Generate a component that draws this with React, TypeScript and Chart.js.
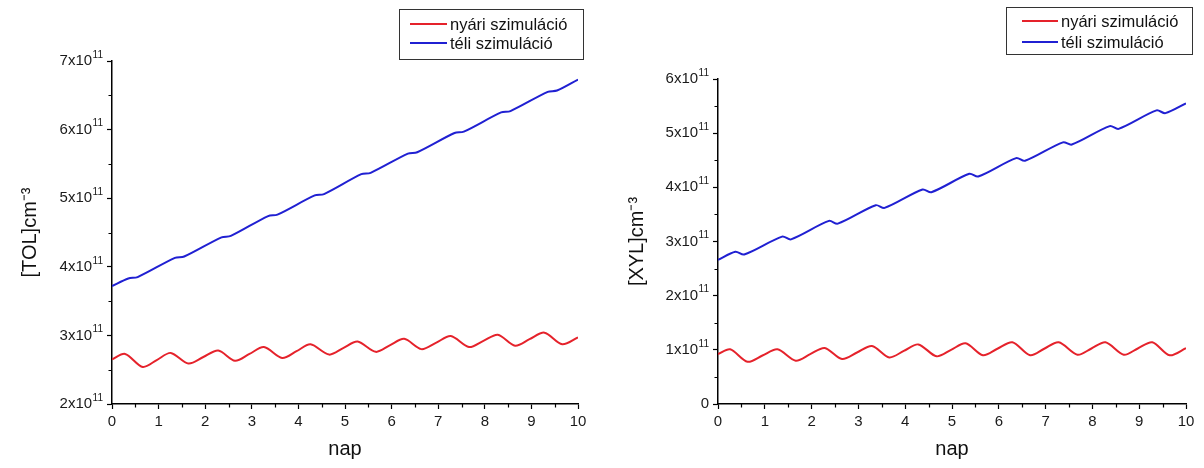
import React, { useEffect, useRef } from 'react';
import { Chart, registerables } from 'chart.js';

Chart.register(...registerables);

// ---- Data (concentrations in units of 10^11 cm^-3, x in days "nap") ----
const SCALE = 1e11;
const SERIES_LABELS = ['nyári szimuláció', 'téli szimuláció'];
const X_TITLE = 'nap';
const TICK_BASE = 'x10';
const TICK_EXP = '11';

// [TOL] – summer (nyári)
const tolSummerX = [0, 0.28, 0.66, 0.96, 1.26, 1.64, 1.96, 2.28, 2.64, 2.95, 3.26, 3.65, 3.96, 4.26, 4.66, 4.96, 5.27, 5.66, 5.96, 6.27, 6.64, 6.96, 7.27, 7.66, 7.97, 8.28, 8.65, 8.96, 9.28, 9.66, 10];
const tolSummerY = [2.65, 2.73, 2.54, 2.64, 2.745, 2.59, 2.685, 2.78, 2.63, 2.73, 2.83, 2.67, 2.77, 2.87, 2.72, 2.815, 2.91, 2.76, 2.855, 2.95, 2.80, 2.895, 2.99, 2.83, 2.92, 3.01, 2.85, 2.945, 3.04, 2.87, 2.97];
// [TOL] – winter (téli)
const tolWinterX = [0, 0.35, 0.55, 1.35, 1.55, 2.35, 2.55, 3.35, 3.55, 4.35, 4.55, 5.35, 5.55, 6.35, 6.55, 7.35, 7.55, 8.35, 8.55, 9.35, 9.55, 10];
const tolWinterY = [3.72, 3.83, 3.85, 4.13, 4.15, 4.43, 4.45, 4.74, 4.76, 5.04, 5.06, 5.35, 5.37, 5.65, 5.67, 5.95, 5.97, 6.25, 6.27, 6.55, 6.57, 6.73];

// [XYL] – summer (nyári)
const xylSummerX = [0, 0.26, 0.63, 0.95, 1.27, 1.66, 1.97, 2.28, 2.65, 2.97, 3.29, 3.66, 3.97, 4.28, 4.67, 4.98, 5.29, 5.66, 5.97, 6.29, 6.67, 6.97, 7.28, 7.68, 7.98, 8.28, 8.67, 8.97, 9.28, 9.65, 10];
const xylSummerY = [0.92, 1.01, 0.78, 0.895, 1.01, 0.80, 0.92, 1.035, 0.83, 0.95, 1.07, 0.86, 0.98, 1.10, 0.88, 1.00, 1.12, 0.90, 1.02, 1.14, 0.90, 1.02, 1.14, 0.91, 1.025, 1.14, 0.91, 1.025, 1.14, 0.90, 1.03];
// [XYL] – winter (téli)
const xylWinterX = [0, 0.37, 0.56, 1.37, 1.56, 2.37, 2.56, 3.37, 3.56, 4.37, 4.56, 5.37, 5.56, 6.37, 6.56, 7.37, 7.56, 8.37, 8.56, 9.37, 9.56, 10];
const xylWinterY = [2.66, 2.81, 2.76, 3.09, 3.04, 3.38, 3.33, 3.67, 3.62, 3.96, 3.91, 4.25, 4.20, 4.54, 4.49, 4.83, 4.79, 5.13, 5.08, 5.42, 5.37, 5.55];

const FONT = "'Liberation Sans', Arial, Helvetica, sans-serif";
const RED = '#e5222b';
const BLUE = '#2020d2';
const TICK_COLOR = '#1a1a1a';

const toPoints = (xs: number[], ys: number[]) => xs.map((x, i) => ({ x, y: ys[i] * SCALE }));

// minor ticks plugin (half steps, outside the axes)
const minorTicks = {
  id: 'minorTicks',
  afterDraw(chart: any) {
    const { ctx } = chart;
    const xs = chart.scales.x;
    const ys = chart.scales.y;
    ctx.save();
    ctx.strokeStyle = '#000';
    ctx.lineWidth = 1.2;
    ctx.beginPath();
    for (let v = xs.min + 0.5; v < xs.max; v += 1) {
      const px = Math.round(xs.getPixelForValue(v)) + 0.5;
      ctx.moveTo(px, xs.top);
      ctx.lineTo(px, xs.top + 3.5);
    }
    for (let v = ys.min + SCALE / 2; v < ys.max; v += SCALE) {
      const py = Math.round(ys.getPixelForValue(v)) + 0.5;
      ctx.moveTo(ys.right, py);
      ctx.lineTo(ys.right - 3.5, py);
    }
    ctx.stroke();
    ctx.restore();
  },
};

// y tick labels with a real superscript exponent
const supTicks = {
  id: 'supTicks',
  afterDraw(chart: any) {
    const { ctx } = chart;
    const ys = chart.scales.y;
    const right = ys.right - 9;
    ctx.save();
    ctx.fillStyle = TICK_COLOR;
    ctx.textAlign = 'right';
    ctx.textBaseline = 'middle';
    ys.ticks.forEach((t: any) => {
      const py = ys.getPixelForValue(t.value);
      const n = Math.round(t.value / SCALE);
      if (n === 0) {
        ctx.font = `15px ${FONT}`;
        ctx.fillText('0', right, py);
        return;
      }
      ctx.font = `10px ${FONT}`;
      const sw = ctx.measureText(TICK_EXP).width;
      ctx.fillText(TICK_EXP, right, py - 6);
      ctx.font = `15px ${FONT}`;
      ctx.fillText(`${n}${TICK_BASE}`, right - sw - 0.5, py);
    });
    ctx.restore();
  },
};

// boxed legend plugin, drawn from the datasets
const boxLegend = {
  id: 'boxLegend',
  afterDraw(chart: any, _args: any, opts: any) {
    const { ctx } = chart;
    ctx.save();
    ctx.strokeStyle = '#333';
    ctx.lineWidth = 1;
    ctx.strokeRect(opts.x + 0.5, opts.y + 0.5, opts.w, opts.h);
    ctx.font = `16.5px ${FONT}`;
    ctx.textBaseline = 'middle';
    ctx.textAlign = 'left';
    chart.data.datasets.forEach((ds: any, i: number) => {
      const y = opts.rowY[i];
      ctx.strokeStyle = ds.borderColor;
      ctx.lineWidth = 2;
      ctx.beginPath();
      ctx.moveTo(opts.lineX1, y);
      ctx.lineTo(opts.lineX2, y);
      ctx.stroke();
      ctx.fillStyle = '#111';
      ctx.fillText(ds.label, opts.textX, y + 1);
    });
    ctx.restore();
  },
};

type PanelProps = {
  width: number;
  height: number;
  summer: { x: number; y: number }[];
  winter: { x: number; y: number }[];
  yMin: number;
  yMax: number;
  yTitle: string;
  axisLeft: number;
  padRight: number;
  padTop: number;
  yTitlePad: number;
  legend: any;
};

function Panel(p: PanelProps) {
  const ref = useRef<HTMLCanvasElement | null>(null);
  useEffect(() => {
    if (!ref.current) return;
    const chart = new Chart(ref.current, {
      type: 'line',
      data: {
        datasets: [
          { label: SERIES_LABELS[0], data: p.summer, borderColor: RED, backgroundColor: RED, borderWidth: 2, pointRadius: 0, tension: 0.3, fill: false },
          { label: SERIES_LABELS[1], data: p.winter, borderColor: BLUE, backgroundColor: BLUE, borderWidth: 2, pointRadius: 0, tension: 0.3, fill: false },
        ],
      },
      options: {
        responsive: false,
        animation: false,
        events: [],
        layout: { padding: { left: 0, right: p.padRight, top: p.padTop, bottom: 0 } },
        plugins: {
          legend: { display: false },
          tooltip: { enabled: false },
          boxLegend: p.legend,
        } as any,
        scales: {
          x: {
            type: 'linear',
            min: 0,
            max: 10,
            border: { color: '#000', width: 1.5 },
            grid: { drawOnChartArea: false, color: '#000', tickLength: 5, tickWidth: 1.2 },
            ticks: { stepSize: 1, color: TICK_COLOR, padding: 4, font: { family: FONT, size: 15 }, maxRotation: 0 },
            title: { display: true, text: X_TITLE, color: '#111', font: { family: FONT, size: 20 }, padding: { top: 0, bottom: 7 } },
            afterFit: (s: any) => { s.height = 64; },
          },
          y: {
            type: 'linear',
            min: p.yMin,
            max: p.yMax,
            border: { color: '#000', width: 1.5 },
            grid: { drawOnChartArea: false, color: '#000', tickLength: 5, tickWidth: 1.2 },
            ticks: { stepSize: SCALE, display: false },
            title: { display: true, text: p.yTitle, color: '#111', font: { family: FONT, size: 20 }, padding: { top: p.yTitlePad, bottom: 0 } },
            afterFit: (s: any) => { s.width = p.axisLeft; },
          },
        },
      },
      plugins: [minorTicks, supTicks, boxLegend],
    });
    return () => chart.destroy();
  }, []);
  return <canvas ref={ref} width={p.width} height={p.height} style={{ display: 'block' }} />;
}

export default function App() {
  return (
    <div style={{ position: 'fixed', left: 0, top: 0, width: 1204, height: 468, background: '#fff', display: 'flex' }}>
      <Panel
        width={600}
        height={468}
        summer={toPoints(tolSummerX, tolSummerY)}
        winter={toPoints(tolWinterX, tolWinterY)}
        yMin={2 * SCALE}
        yMax={7 * SCALE}
        yTitle={'[TOL]cm\u207B\u00B3'}
        axisLeft={112}
        padRight={22}
        padTop={61}
        yTitlePad={18}
        legend={{ x: 399, y: 9, w: 184, h: 50, lineX1: 410, lineX2: 447, textX: 450, rowY: [24, 43] }}
      />
      <Panel
        width={604}
        height={468}
        summer={toPoints(xylSummerX, xylSummerY)}
        winter={toPoints(xylWinterX, xylWinterY)}
        yMin={0}
        yMax={6 * SCALE}
        yTitle={'[XYL]cm\u207B\u00B3'}
        axisLeft={118}
        padRight={18}
        padTop={79}
        yTitlePad={25}
        legend={{ x: 406, y: 7, w: 186, h: 47, lineX1: 422, lineX2: 458, textX: 461, rowY: [21, 42] }}
      />
    </div>
  );
}
